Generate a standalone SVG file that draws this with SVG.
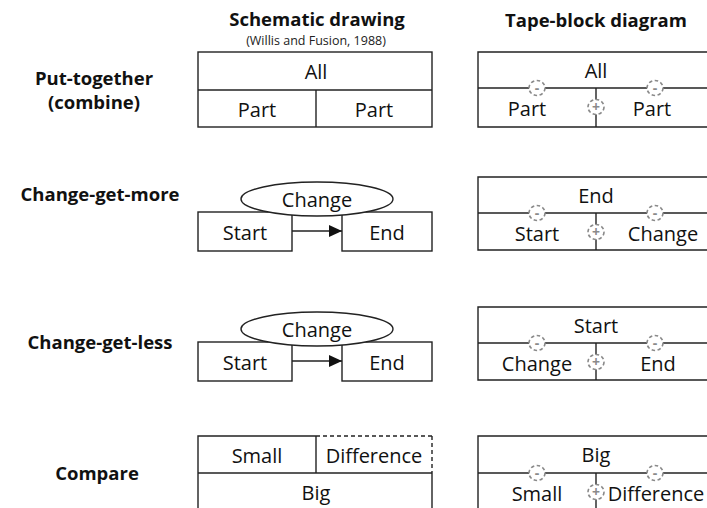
<svg xmlns="http://www.w3.org/2000/svg" width="707" height="508" viewBox="0 0 707 508">
  <defs>
    <style>
      .t { font-family: "Open Sans", Lato, sans-serif; font-size: 20px; fill: #111; text-anchor: middle; dominant-baseline: central; }
      .h { font-family: "Open Sans", Lato, sans-serif; font-size: 18.5px; font-weight: bold; fill: #111; text-anchor: middle; }
      .s { font-family: "Open Sans", Lato, sans-serif; font-size: 12.5px; fill: #222; text-anchor: middle; }
      .box { fill: #fff; stroke: #222; stroke-width: 1.4; }
      .ln { fill: none; stroke: #222; stroke-width: 1.4; }
      .dash { fill: none; stroke: #222; stroke-width: 1.4; stroke-dasharray: 4 3; }
      .op { fill: #fff; stroke: #8a8a8a; stroke-width: 1.6; stroke-dasharray: 3.5 2.5; }
      .opt { font-family: "Open Sans", Lato, sans-serif; font-size: 14px; font-weight: bold; fill: #8a8a8a; text-anchor: middle; dominant-baseline: central; }
    </style>
    <marker id="arrow" viewBox="0 0 12 11" refX="12" refY="5.5" markerWidth="13" markerHeight="12" markerUnits="userSpaceOnUse" orient="auto">
      <path d="M0,0 L12,5.5 L0,11 z" fill="#111"/>
    </marker>
    <!-- dashed operator circles used on the tape blocks -->
    <g id="minus">
      <ellipse class="op" cx="0" cy="0" rx="8" ry="7.5"/>
      <text class="opt" x="0" y="-1">-</text>
    </g>
    <g id="plus">
      <ellipse class="op" cx="0" cy="0" rx="8" ry="7.5"/>
      <text class="opt" x="0" y="-1">+</text>
    </g>
  </defs>

  <rect width="707" height="508" fill="#fff"/>

  <!-- column headers -->
  <g id="headers">
    <text class="h" x="317" y="26">Schematic drawing</text>
    <text class="s" x="316" y="45">(Willis and Fusion, 1988)</text>
    <text class="h" x="596" y="27">Tape-block diagram</text>
  </g>

  <!-- row labels -->
  <g id="row-labels">
    <text class="h" x="94" y="85">Put-together</text>
    <text class="h" x="94" y="109">(combine)</text>
    <text class="h" x="100" y="201">Change-get-more</text>
    <text class="h" x="100" y="349">Change-get-less</text>
    <text class="h" x="97" y="480">Compare</text>
  </g>

  <!-- Put-together: schematic -->
  <g id="combine-schematic">
    <rect class="box" x="198" y="52" width="234" height="75"/>
    <line class="ln" x1="198" y1="90" x2="432" y2="90"/>
    <line class="ln" x1="316" y1="90" x2="316" y2="127"/>
    <text class="t" x="316" y="71">All</text>
    <text class="t" x="257" y="109">Part</text>
    <text class="t" x="374" y="109">Part</text>
  </g>

  <!-- Put-together: tape block -->
  <g id="combine-tape">
    <polyline class="ln" points="710,52 478,52 478,127 710,127"/>
    <line class="ln" x1="478" y1="88" x2="710" y2="88"/>
    <line class="ln" x1="596" y1="88" x2="596" y2="127"/>
    <text class="t" x="596" y="70">All</text>
    <text class="t" x="527" y="108">Part</text>
    <text class="t" x="652" y="108">Part</text>
    <use href="#minus" x="537" y="88"/>
    <use href="#minus" x="655" y="88"/>
    <use href="#plus" x="596" y="107"/>
  </g>

  <!-- Change-get-more: schematic -->
  <g id="more-start">
    <rect class="box" x="198" y="212" width="94" height="39"/>
    <text class="t" x="245" y="232">Start</text>
  </g>
  <g id="more-end">
    <rect class="box" x="342" y="212" width="90" height="39"/>
    <text class="t" x="387" y="232">End</text>
  </g>
  <g id="more-change">
    <ellipse class="box" cx="317" cy="199" rx="76" ry="17"/>
    <text class="t" x="317" y="199">Change</text>
  </g>

  <!-- Change-get-more: tape block -->
  <g id="more-tape">
    <polyline class="ln" points="710,177 478,177 478,250 710,250"/>
    <line class="ln" x1="478" y1="213" x2="710" y2="213"/>
    <line class="ln" x1="596" y1="213" x2="596" y2="250"/>
    <text class="t" x="596" y="195">End</text>
    <text class="t" x="537" y="233">Start</text>
    <text class="t" x="663" y="233">Change</text>
    <use href="#minus" x="537" y="213"/>
    <use href="#minus" x="655" y="213"/>
    <use href="#plus" x="596" y="232"/>
  </g>

  <!-- Change-get-less: schematic -->
  <g id="less-start">
    <rect class="box" x="198" y="342" width="94" height="39"/>
    <text class="t" x="245" y="362">Start</text>
  </g>
  <g id="less-end">
    <rect class="box" x="342" y="342" width="90" height="39"/>
    <text class="t" x="387" y="362">End</text>
  </g>
  <g id="less-change">
    <ellipse class="box" cx="317" cy="329" rx="76" ry="17"/>
    <text class="t" x="317" y="329">Change</text>
  </g>

  <!-- Change-get-less: tape block -->
  <g id="less-tape">
    <polyline class="ln" points="710,307 478,307 478,380 710,380"/>
    <line class="ln" x1="478" y1="343" x2="710" y2="343"/>
    <line class="ln" x1="596" y1="343" x2="596" y2="380"/>
    <text class="t" x="596" y="325">Start</text>
    <text class="t" x="537" y="363">Change</text>
    <text class="t" x="658" y="363">End</text>
    <use href="#minus" x="537" y="343"/>
    <use href="#minus" x="655" y="343"/>
    <use href="#plus" x="596" y="362"/>
  </g>

  <!-- Compare: schematic -->
  <g id="compare-schematic">
    <polyline class="ln" points="316,436 198,436 198,512"/>
    <line class="dash" x1="316" y1="436" x2="432" y2="436"/>
    <line class="dash" x1="432" y1="436" x2="432" y2="473"/>
    <line class="ln" x1="432" y1="473" x2="432" y2="512"/>
    <line class="ln" x1="198" y1="473" x2="432" y2="473"/>
    <line class="ln" x1="316" y1="436" x2="316" y2="473"/>
    <text class="t" x="257" y="455">Small</text>
    <text class="t" x="374" y="455">Difference</text>
    <text class="t" x="316" y="492">Big</text>
  </g>

  <!-- Compare: tape block -->
  <g id="compare-tape">
    <polyline class="ln" points="710,436 478,436 478,512"/>
    <line class="ln" x1="478" y1="473" x2="710" y2="473"/>
    <line class="ln" x1="596" y1="473" x2="596" y2="512"/>
    <text class="t" x="596" y="454">Big</text>
    <text class="t" x="537" y="493">Small</text>
    <text class="t" x="656" y="493">Difference</text>
    <use href="#minus" x="537" y="473"/>
    <use href="#minus" x="655" y="473"/>
    <use href="#plus" x="596" y="492"/>
  </g>

  <!-- connectors -->
  <g id="connectors">
    <line class="ln" x1="292" y1="231" x2="342" y2="231" stroke-width="2" marker-end="url(#arrow)"/>
    <line class="ln" x1="292" y1="361" x2="342" y2="361" stroke-width="2" marker-end="url(#arrow)"/>
  </g>
</svg>
